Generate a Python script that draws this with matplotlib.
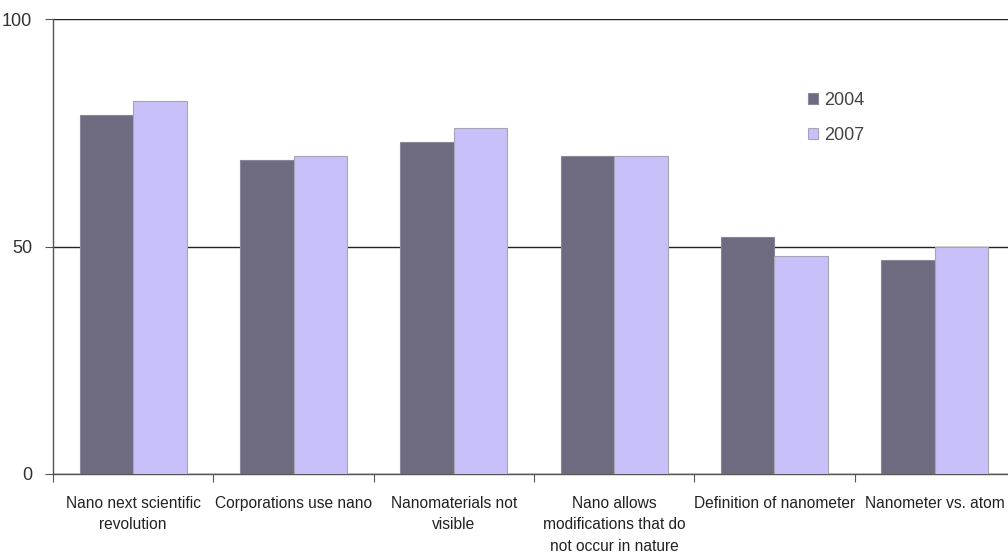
import numpy as np
import matplotlib
matplotlib.use("Agg")
import matplotlib.pyplot as plt

# survey items and share of correct answers per year
categories = ["Nano next scientific\nrevolution",
              "Corporations use nano",
              "Nanomaterials not\nvisible",
              "Nano allows\nmodifications that do\nnot occur in nature",
              "Definition of nanometer",
              "Nanometer vs. atom"]
vals_2004 = [79, 69, 73, 70, 52, 47]
vals_2007 = [82, 70, 76, 70, 48, 50]
years = ["2004", "2007"]

plt.rcParams['font.family'] = ['Liberation Sans Narrow', 'Liberation Sans', 'DejaVu Sans']

W, H = 1008, 554
fig = plt.figure(figsize=(W / 100, H / 100), dpi=100)
ax = fig.add_axes([53 / W, 80 / H, 962 / W, 455 / H])

x = np.arange(len(categories))
w = 1 / 3
ax.bar(x - w / 2, vals_2004, w, color="#6e6a80", edgecolor="#8a8898", linewidth=0.8,
       label=years[0], zorder=3)
ax.bar(x + w / 2, vals_2007, w, color="#c8c0f8", edgecolor="#a8a4b8", linewidth=0.8,
       label=years[1], zorder=3)

ax.set_xlim(-0.5, len(categories) - 0.5)
ax.set_ylim(0, 100)
ax.set_yticks([0, 50, 100])
ax.yaxis.grid(True, color="#222222", linewidth=1)
ax.set_axisbelow(True)

# category ticks sit on the group boundaries, labels at centres
ax.set_xticks(np.arange(len(categories) + 1) - 0.5)
ax.set_xticklabels([])
ax.set_xticks(x, minor=True)
ax.set_xticklabels(categories, minor=True, fontsize=11.2, color="#222222", linespacing=1.52)
ax.tick_params(axis="x", which="minor", length=0, pad=16)
ax.tick_params(axis="x", which="major", length=6, direction="out", color="#555555")
ax.tick_params(axis="y", length=6, direction="out", color="#555555", labelsize=13,
               labelcolor="#333333", pad=9)

for s in ["top", "right"]:
    ax.spines[s].set_visible(False)
for s in ["left", "bottom"]:
    ax.spines[s].set_color("#555555")
    ax.spines[s].set_linewidth(1)

leg = ax.legend(loc="upper left", bbox_to_anchor=(0.768, 0.875),
                frameon=False, fontsize=13, handlelength=0.55, handleheight=0.55,
                handletextpad=0.35, labelspacing=1.0, labelcolor="#444444")

fig.savefig("out.png", dpi=100)
